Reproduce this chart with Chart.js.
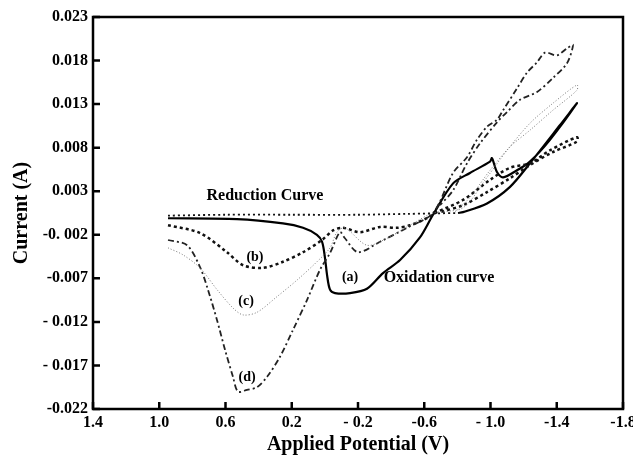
<!DOCTYPE html>
<html>
<head>
<meta charset="utf-8">
<script src="https://cdn.jsdelivr.net/npm/chart.js@4.4.1/dist/chart.umd.min.js"></script>
<style>
  body { margin: 0; background: #fff; }
  #wrap { width: 633px; height: 456px; }
</style>
</head>
<body>
<div id="wrap"><canvas id="cv"></canvas></div>
<script>
// axis ticks
const xTickValues = [1.4, 1.0, 0.6, 0.2, -0.2, -0.6, -1.0, -1.4, -1.8];
const xTickLabels = ['1.4', '1.0', '0.6', '0.2', '- 0.2', '-0.6', '- 1.0', '-1.4', '-1.8'];
const yTickValues = [0.023, 0.018, 0.013, 0.008, 0.003, -0.002, -0.007, -0.012, -0.017, -0.022];
const yTickLabels = ['0.023', '0.018', '0.013', '0.008', '0.003', '-0. 002', '-0.007', '- 0.012', '- 0.017', '-0.022'];

// (a) oxidation curve, solid
const aPotential = [0.947, 0.531, 0.253, 0.132, 0.048, 0.017, -0.001, -0.013, -0.031, -0.061, -0.152, -0.254, -0.351, -0.454, -0.574, -0.653,
  -0.774, -0.876, -0.997, -1.009, -1.039, -1.076, -1.160, -1.238, -1.359, -1.522,
  -1.420, -1.238, -1.118, -0.979, -0.834, -0.804];
const aCurrent = [-0.0001, -0.0002, -0.0007, -0.0012, -0.0020, -0.0028, -0.0047, -0.0066, -0.0083, -0.0087, -0.0087, -0.0082, -0.0064, -0.0049, -0.0023, 0.0003,
  0.0039, 0.0051, 0.0064, 0.0068, 0.0052, 0.0046, 0.0054, 0.0064, 0.0089, 0.0131,
  0.0106, 0.0062, 0.0035, 0.0016, 0.0006, 0.0005];

// reduction curve, flat dotted
const redPotential = [0.947, 0.6, 0.2, -0.2, -0.5, -0.804];
const redCurrent = [0.0002, 0.0003, 0.0003, 0.0003, 0.0004, 0.0005];

// (b) dashed
const bPotential = [0.947, 0.754, 0.591, 0.494, 0.374, 0.253, 0.132, 0.017, -0.049, -0.109, -0.212, -0.333, -0.435, -0.514, -0.617, -0.677,
  -0.834, -0.997, -1.118, -1.238, -1.359, -1.522,
  -1.522, -1.377, -1.238, -1.118, -0.979, -0.834, -0.695];
const bCurrent = [-0.0009, -0.0018, -0.0040, -0.0055, -0.0058, -0.0051, -0.0040, -0.0026, -0.0015, -0.0012, -0.0017, -0.0011, -0.0012, -0.0009, -0.0001, 0.0006,
  0.0020, 0.0043, 0.0057, 0.0062, 0.0077, 0.0092,
  0.0087, 0.0075, 0.0060, 0.0045, 0.0029, 0.0014, 0.0006];

// (c) fine dotted
const cPotential = [0.947, 0.857, 0.754, 0.651, 0.555, 0.494, 0.410, 0.289, 0.168, 0.048, -0.031, -0.073, -0.121, -0.254, -0.375, -0.514, -0.653,
  -0.834, -0.979, -1.100, -1.238, -1.377, -1.522,
  -1.522, -1.377, -1.238, -1.118, -0.997, -0.876, -0.786];
const cCurrent = [-0.0035, -0.0043, -0.0058, -0.0083, -0.0104, -0.0112, -0.0109, -0.0091, -0.0072, -0.0051, -0.0035, -0.0017, -0.0012, -0.0032, -0.0024, -0.0009, 0.0005,
  0.0011, 0.0046, 0.0077, 0.0108, 0.0131, 0.0152,
  0.0146, 0.0123, 0.0100, 0.0081, 0.0054, 0.0023, 0.0006];

// (d) dash-dot
const dPotential = [0.947, 0.832, 0.754, 0.706, 0.651, 0.603, 0.555, 0.525, 0.470, 0.410, 0.349, 0.271, 0.192, 0.108, 0.029, -0.031, -0.091, -0.121, -0.200, -0.333, -0.496, -0.653,
  -0.774, -0.858, -0.918, -0.979, -1.039, -1.076, -1.160, -1.220, -1.281, -1.329, -1.401, -1.462, -1.498,
  -1.462, -1.377, -1.281, -1.178, -1.100, -1.039, -0.937, -0.858, -0.774, -0.695];
const dCurrent = [-0.0026, -0.0032, -0.0057, -0.0083, -0.0118, -0.0152, -0.0183, -0.0200, -0.0198, -0.0195, -0.0183, -0.0160, -0.0129, -0.0095, -0.0060, -0.0041, -0.0017, -0.0024, -0.0040, -0.0028, -0.0012, 0.0005,
  0.0051, 0.0069, 0.0089, 0.0104, 0.0112, 0.0123, 0.0148, 0.0166, 0.0178, 0.0189, 0.0186, 0.0194, 0.0198,
  0.0177, 0.0160, 0.0144, 0.0135, 0.0121, 0.0109, 0.0085, 0.0062, 0.0031, 0.0014];

// text inside the plot: [text, potential, current, size]
const notes = [
  ['Reduction Curve', 0.362, 0.0025, 16],
  ['Oxidation curve', -0.689, -0.0069, 16],
  ['(a)', -0.152, -0.0069, 14],
  ['(b)', 0.422, -0.00455, 14],
  ['(c)', 0.476, -0.0097, 14],
  ['(d)', 0.470, -0.0184, 14],
];

const serif = "'Liberation Serif', 'Times New Roman', serif";

function pts(xs, ys) {
  return xs.map((x, i) => ({ x: x, y: ys[i] }));
}

function pick(values, labels, v) {
  for (let i = 0; i < values.length; i++) {
    if (Math.abs(values[i] - v) < 1e-6) return labels[i];
  }
  return '';
}

const frame = {
  id: 'frame',
  afterDraw(chart) {
    const ctx = chart.ctx;
    const a = chart.chartArea;
    const xs = chart.scales.x, ys = chart.scales.y;
    ctx.save();
    ctx.strokeStyle = '#000';
    ctx.lineWidth = 2.5;
    ctx.strokeRect(a.left, a.top, a.right - a.left, a.bottom - a.top);
    ctx.beginPath();
    xTickValues.forEach(v => {
      const p = xs.getPixelForValue(v);
      ctx.moveTo(p, a.bottom);
      ctx.lineTo(p, a.bottom - 7);
    });
    yTickValues.forEach(v => {
      const p = ys.getPixelForValue(v);
      ctx.moveTo(a.left, p);
      ctx.lineTo(a.left + 7, p);
    });
    ctx.stroke();
    ctx.fillStyle = '#000';
    ctx.textAlign = 'center';
    ctx.textBaseline = 'middle';
    notes.forEach(n => {
      ctx.font = 'bold ' + n[3] + 'px ' + serif;
      ctx.fillText(n[0], xs.getPixelForValue(n[1]), ys.getPixelForValue(n[2]));
    });
    ctx.restore();
  }
};

function line(data, color, width, dash) {
  return {
    data: data,
    showLine: true,
    borderColor: color,
    borderWidth: width,
    borderDash: dash,
    pointRadius: 0,
    tension: 0.3,
    fill: false,
  };
}

new Chart(document.getElementById('cv'), {
  type: 'scatter',
  data: {
    datasets: [
      line(pts(redPotential, redCurrent), '#111', 1.8, [2, 3]),
      line(pts(cPotential, cCurrent), '#777', 1, [1, 2]),
      line(pts(dPotential, dCurrent), '#222', 1.8, [6, 3, 2, 3]),
      line(pts(bPotential, bCurrent), '#111', 2.5, [3, 3]),
      line(pts(aPotential, aCurrent), '#000', 2.2, []),
    ],
  },
  options: {
    maintainAspectRatio: false,
    animation: false,
    layout: { padding: { top: 17, right: 10, left: 0, bottom: 0 } },
    plugins: {
      legend: { display: false },
      tooltip: { enabled: false },
    },
    scales: {
      x: {
        type: 'linear',
        min: -1.8,
        max: 1.4,
        reverse: true,
        grid: { display: false, drawTicks: false },
        border: { display: false },
        ticks: {
          stepSize: 0.4,
          autoSkip: false,
          maxRotation: 0,
          padding: 4,
          color: '#000',
          font: { family: serif, size: 16, weight: 'bold' },
          callback: v => pick(xTickValues, xTickLabels, v),
        },
        title: {
          display: true,
          text: 'Applied Potential (V)',
          color: '#000',
          font: { family: serif, size: 20, weight: 'bold', lineHeight: 1 },
          padding: { top: 0, bottom: 1 },
        },
        afterFit(s) {
          s.height = 47;
          s.paddingLeft = 0;
          s.paddingRight = 0;
        },
      },
      y: {
        type: 'linear',
        min: -0.022,
        max: 0.023,
        grid: { display: false, drawTicks: false },
        border: { display: false },
        ticks: {
          stepSize: 0.005,
          autoSkip: false,
          padding: 5,
          color: '#000',
          font: { family: serif, size: 16, weight: 'bold' },
          callback: v => pick(yTickValues, yTickLabels, v),
        },
        title: {
          display: true,
          text: 'Current (A)',
          color: '#000',
          font: { family: serif, size: 20, weight: 'bold', lineHeight: 1 },
          padding: { top: 12, bottom: 0 },
        },
        afterFit(s) {
          s.width = 93;
          s.paddingTop = 0;
          s.paddingBottom = 0;
        },
      },
    },
  },
  plugins: [frame],
});
</script>
</body>
</html>
